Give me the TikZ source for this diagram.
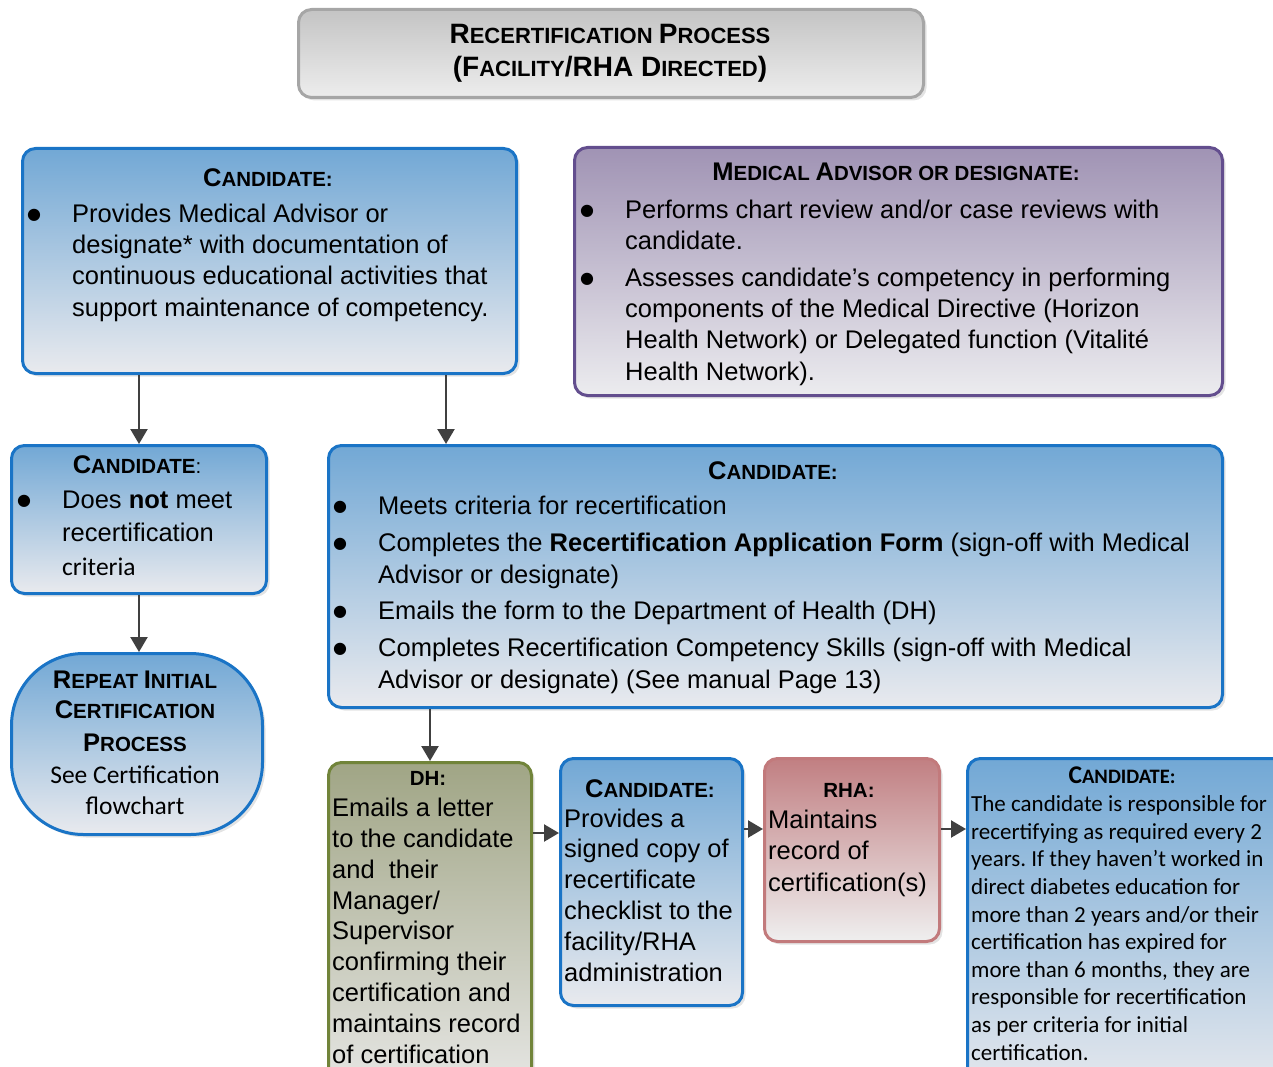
\documentclass[tikz,border=0pt]{standalone}
\usepackage{fontspec}
\setmainfont{Liberation Sans}
\newfontfamily\calib{Carlito}
\newfontfamily\djv{DejaVu Sans}
\usetikzlibrary{shadows,arrows.meta}
\frenchspacing
\definecolor{bblue}{HTML}{1A74C6}
\definecolor{btop}{HTML}{72A8D5}
\definecolor{bbot}{HTML}{E9EAEE}
\definecolor{gline}{HTML}{A6A6A6}
\definecolor{gtop}{HTML}{C4C4C4}
\definecolor{gbot}{HTML}{EDEDED}
\definecolor{pline}{HTML}{634E8E}
\definecolor{ptop}{HTML}{A093B4}
\definecolor{pbot}{HTML}{ECECEF}
\definecolor{oline}{HTML}{71843A}
\definecolor{otop}{HTML}{A0A585}
\definecolor{obot}{HTML}{E9E9E8}
\definecolor{rline}{HTML}{C27A7C}
\definecolor{rtop}{HTML}{C17F82}
\definecolor{rbot}{HTML}{EFEFEF}
\definecolor{arrc}{HTML}{404040}
\newcommand\BL[1]{{\fontsize{25.5}{30}\selectfont #1}}
\newcommand\SL[1]{{\fontsize{20.5}{30}\selectfont #1}}
\newcommand\TB[1]{{\fontsize{28}{32}\selectfont #1}}
\newcommand\TS[1]{{\fontsize{22}{32}\selectfont #1}}
\newcommand\bul{\llap{\makebox[45pt][l]{\raisebox{2.5pt}{\djv\fontsize{16}{16}\selectfont ●}}}}
\tikzset{
  box/.style={draw, line width=3pt, rounded corners=13pt, anchor=north west, inner sep=0pt,
    drop shadow={shadow xshift=3pt, shadow yshift=-3pt, opacity=0.22}},
  bluebox/.style={box, draw=bblue, top color=btop, bottom color=bbot},
  graybox/.style={box, draw=gline, top color=gtop, bottom color=gbot},
  purplebox/.style={box, draw=pline, top color=ptop, bottom color=pbot},
  olivebox/.style={box, draw=oline, top color=otop, bottom color=obot},
  redbox/.style={box, draw=rline, top color=rtop, bottom color=rbot},
  hd/.style={anchor=base, inner sep=0pt, font=\bfseries},
  txt/.style={anchor=base west, align=left, inner sep=0pt, font=\fontsize{25.5}{31.3}\selectfont},
  ctr/.style={anchor=base, align=center, inner sep=0pt},
  arr/.style={draw=arrc, line width=2.3pt, -{Triangle[length=15pt,width=17pt]}},
}
\begin{document}
% text nodes are anchored at the baseline of their LAST line
\begin{tikzpicture}[x=1pt,y=-1pt]
\path[use as bounding box] (0,0) rectangle (1273,1067);
\clip (0,0) rectangle (1273,1067);
% title
\node[graybox, minimum width=625, minimum height=88] (title) at (297,8) {};
\node[hd] (tt1) at (610,44) {\TB{R}\TS{ECERTIFICATION }\TB{P}\TS{ROCESS}};
\node[hd] (tt2) at (610,77) {\TB{(F}\TS{ACILITY}\TB{/RHA D}\TS{IRECTED}\TB{)}};
% candidate 1
\node[bluebox, minimum width=494, minimum height=225] (c1) at (21,147) {};
\node[hd] (c1h) at (268,187) {\BL{C}\SL{ANDIDATE:}};
\node[txt] (c1t) at (72,316) {\bul Provides Medical Advisor or\\designate* with documentation of\\continuous educational activities that\\support maintenance of competency.};
% medical advisor
\node[purplebox, minimum width=648, minimum height=248] (ma) at (573,146) {};
\node[hd] (mah) at (896,181) {\BL{M}\SL{EDICAL }\BL{A}\SL{DVISOR OR DESIGNATE:}};
\node[txt, font=\fontsize{25.5}{31.5}\selectfont] (mat1) at (625,250) {\bul Performs chart review and/or case reviews with\\candidate.};
\node[txt] (mat2) at (625,380) {\bul Assesses candidate’s competency in performing\\components of the Medical Directive (Horizon\\Health Network) or Delegated function (Vitalité\\Health Network).};
% candidate left
\node[bluebox, minimum width=255, minimum height=148] (cl) at (10,444) {};
\node[hd] (clh) at (137,473) {\BL{C}\SL{ANDIDATE}\mdseries\SL{:}};
\node[txt, font=\fontsize{25.5}{33.5}\selectfont] (clt) at (62,575) {\bul Does \textbf{not} meet\\recertification\\{\calib criteria}};
% repeat
\node[bluebox, rounded corners=72pt, minimum width=251, minimum height=181] (rep) at (10,652) {};
\node[ctr, font=\bfseries\fontsize{25.5}{30}\selectfont] (reph) at (135,751) {\BL{R}\SL{EPEAT }\BL{I}\SL{NITIAL}\\\BL{C}\SL{ERTIFICATION}\\[3pt]\BL{P}\SL{ROCESS}};
\node[ctr, font=\calib\fontsize{25.5}{31}\selectfont] (rept) at (135,814) {See Certification\\flowchart};
% big candidate
\node[bluebox, minimum width=894, minimum height=262] (bc) at (327,444) {};
\node[hd] (bch) at (773,479) {\BL{C}\SL{ANDIDATE:}};
\node[txt] (bct1) at (378,514) {\bul Meets criteria for recertification};
\node[txt, font=\fontsize{25.5}{32}\selectfont] (bct2) at (378,583) {\bul Completes the \textbf{Recertification Application Form} (sign-off with Medical\\Advisor or designate)};
\node[txt] (bct3) at (378,619) {\bul Emails the form to the Department of Health (DH)};
\node[txt, font=\fontsize{25.5}{32}\selectfont] (bct4) at (378,688) {\bul Completes Recertification Competency Skills (sign-off with Medical\\Advisor or designate) (See manual Page 13)};
% DH
\node[olivebox, minimum width=203, minimum height=340] (dh) at (327,761) {};
\node[hd] (dhh) at (428,785) {\SL{DH:}};
\node[txt, font=\fontsize{25.5}{30.8}\selectfont] (dht) at (332,1063) {Emails a letter\\to the candidate\\and\ \ their\\Manager/\\Supervisor\\confirming their\\certification and\\maintains record\\of certification};
% candidate 2
\node[bluebox, minimum width=182, minimum height=247] (c2) at (559,757) {};
\node[hd] (c2h) at (650,797) {\BL{C}\SL{ANDIDATE:}};
\node[txt, font=\fontsize{25.5}{30.8}\selectfont] (c2t) at (564,981) {Provides a\\signed copy of\\recertificate\\checklist to the\\facility/RHA\\administration};
% RHA
\node[redbox, minimum width=175, minimum height=183] (rha) at (763,757) {};
\node[hd] (rhah) at (849,797) {\SL{RHA:}};
\node[txt] (rhat) at (768,891) {Maintains\\record of\\certification(s)};
% candidate 3
\node[bluebox, minimum width=340, minimum height=340] (c3) at (966,757) {};
\node[hd, font=\calib\bfseries] (c3h) at (1122,783) {\BL{C}\SL{ANDIDATE:}};
\node[txt, font=\calib\fontsize{23}{27.6}\selectfont] (c3t) at (971,1060) {The candidate is responsible for\\recertifying as required every 2\\years. If they haven’t worked in\\direct diabetes education for\\more than 2 years and/or their\\certification has expired for\\more than 6 months, they are\\responsible for recertification\\as per criteria for initial\\certification.};
% connectors
\coordinate (dhout) at ([yshift=-72pt]dh.north east);
\coordinate (c2out) at ([yshift=-72pt]c2.north east);
\coordinate (rhaout) at ([yshift=-72pt]rha.north east);
\coordinate (c1out) at ([xshift=-72pt]c1.south east);
\draw[arr] (cl.north |- c1.south) -- (cl.north);
\draw[arr] (c1out) -- (c1out |- bc.north);
\draw[arr] (cl.south) -- (cl.south |- rep.north);
\draw[arr] (dh.north |- bc.south) -- (dh.north);
\draw[arr] (dhout) -- (c2.west |- dhout);
\draw[arr] (c2out) -- (rha.west |- c2out);
\draw[arr] (rhaout) -- (c3.west |- rhaout);
\end{tikzpicture}
\end{document}
